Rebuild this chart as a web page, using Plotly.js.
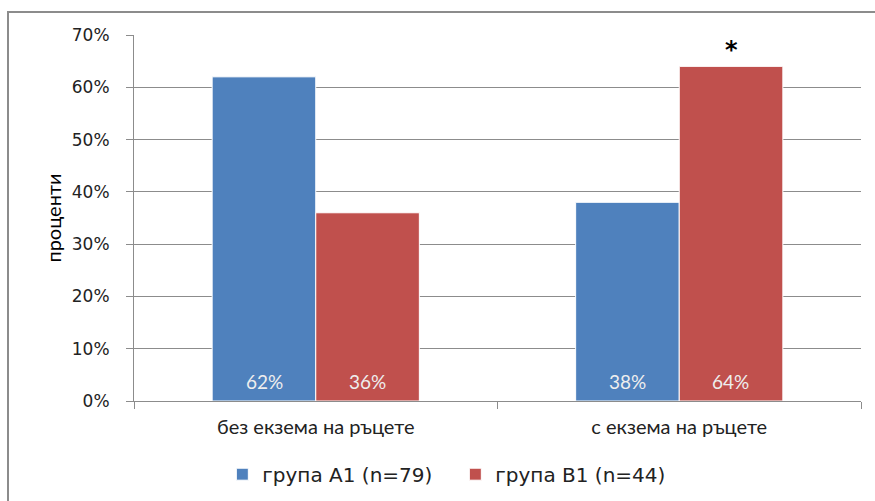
<!DOCTYPE html>
<html>
<head>
<meta charset="utf-8">
<script src="https://cdn.plot.ly/plotly-3.0.1.min.js"></script>
<style>
  html, body { margin: 0; padding: 0; background: #fff; }
  #wrap { position: relative; width: 875px; height: 501px; overflow: hidden; }
  #chart { width: 875px; height: 501px; }
  #frame { position: absolute; left: 7px; top: 11px; width: 900px; height: 530px;
           border: 2px solid #8c8c8c; pointer-events: none; box-sizing: border-box; }
</style>
</head>
<body>
<div id="wrap">
  <div id="chart"></div>
  <div id="frame"></div>
</div>
<script>
const categories = ["без екзема на ръцете", "с екзема на ръцете"];
const seriesNames = ["група А1 (n=79)", "група В1 (n=44)"];
const groupA1 = [62, 38];
const groupB1 = [36, 64];
const yTicks = [0, 10, 20, 30, 40, 50, 60, 70];
const yTickLabels = ["0%", "10%", "20%", "30%", "40%", "50%", "60%", "70%"];
const markCategory = "с екзема на ръцете";
const markValue = 64;

const calibriLike = "Lato, Open Sans, sans-serif";
const verdanaLike = "DejaVu Sans, Verdana, sans-serif";

const traces = [
  {
    type: "bar", name: seriesNames[0], x: categories, y: groupA1,
    marker: { color: "#4F81BD", line: { color: "#ffffff", width: 1 } },
    hoverinfo: "none"
  },
  {
    type: "bar", name: seriesNames[1], x: categories, y: groupB1,
    marker: { color: "#C0504D", line: { color: "#ffffff", width: 1 } },
    hoverinfo: "none"
  }
];

const annotations = [];
const series = [groupA1, groupB1];
series.forEach((vals, si) => {
  vals.forEach((v, ci) => {
    annotations.push({
      x: categories[ci], y: 0, xref: "x", yref: "y",
      text: v + "%", showarrow: false,
      xshift: si === 0 ? -51.5 : 51.5, yanchor: "middle", yshift: 20,
      font: { family: calibriLike, size: 19, color: "#eeeeee" }
    });
  });
});
annotations.push({
  x: markCategory, y: markValue, xref: "x", yref: "y",
  text: "<b>*</b>", showarrow: false, xshift: 52, yanchor: "bottom", yshift: 0,
  font: { family: verdanaLike, size: 24, color: "#000" }
});

const layout = {
  width: 875, height: 501,
  margin: { l: 134, r: 14, t: 35, b: 100, autoexpand: false },
  paper_bgcolor: "#ffffff", plot_bgcolor: "#ffffff",
  barmode: "group", bargap: 0.43, bargroupgap: 0,
  showlegend: true,
  legend: {
    orientation: "h", x: 0.442, xanchor: "center", y: -0.2, yanchor: "middle",
    font: { family: verdanaLike, size: 20, color: "#222" },
    itemwidth: 30, traceorder: "normal",
    entrywidth: 188, entrywidthmode: "pixels"
  },
  xaxis: {
    type: "category", tickson: "boundaries", ticks: "outside", ticklen: 7,
    tickcolor: "#8c8c8c", showline: true, linecolor: "#8c8c8c", linewidth: 1,
    showgrid: false, zeroline: false, ticklabelstandoff: 8,
    tickfont: { family: calibriLike, size: 20, color: "#222" }
  },
  yaxis: {
    range: [0, 70], tickvals: yTicks, ticktext: yTickLabels,
    ticks: "outside", ticklen: 7, tickcolor: "#8c8c8c",
    showline: true, linecolor: "#8c8c8c", linewidth: 1,
    showgrid: true, gridcolor: "#8c8c8c", gridwidth: 1, zeroline: false,
    ticklabelstandoff: 13,
    tickfont: { family: verdanaLike, size: 17, color: "#222" },
    title: { text: "проценти", font: { family: calibriLike, size: 20, color: "#000" }, standoff: 4 }
  },
  annotations: annotations
};

Plotly.newPlot("chart", traces, layout, { displayModeBar: false, staticPlot: true });
</script>
</body>
</html>
